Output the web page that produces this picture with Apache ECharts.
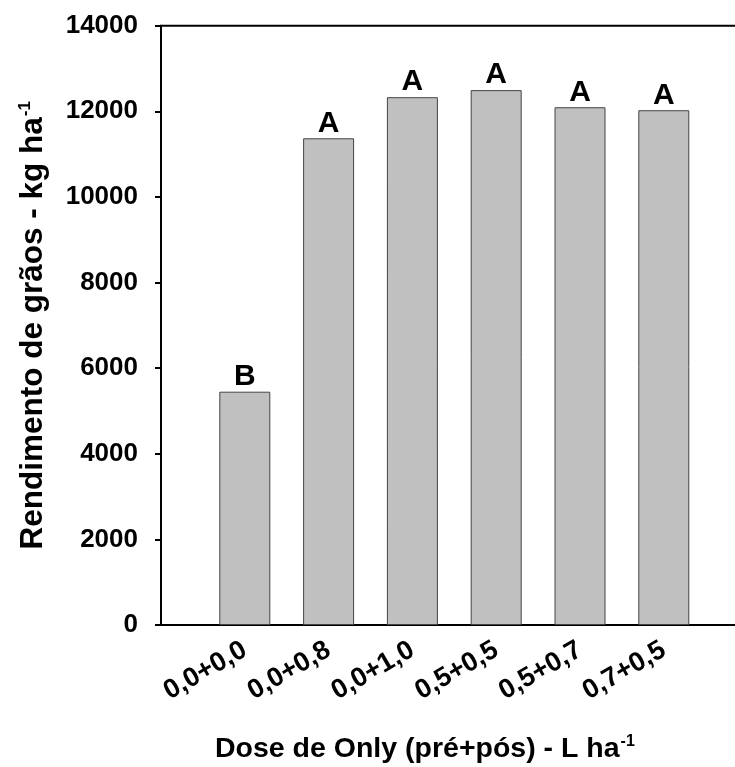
<!DOCTYPE html>
<html>
<head>
<meta charset="utf-8">
<script src="https://cdn.jsdelivr.net/npm/echarts@6/dist/echarts.min.js"></script>
<style>html,body{margin:0;padding:0;background:#fff}#c{width:735px;height:767px}</style>
</head>
<body>
<div id="c"></div>
<script>
const categories = ['0,0+0,0', '0,0+0,8', '0,0+1,0', '0,5+0,5', '0,5+0,7', '0,7+0,5'];
const yieldValues = [5450, 11370, 12330, 12495, 12095, 12025];
const letters = ['B', 'A', 'A', 'A', 'A', 'A'];
const yTicks = [0, 2000, 4000, 6000, 8000, 10000, 12000, 14000];

const FONT = '"Liberation Sans", Arial, sans-serif';
const chart = echarts.init(document.getElementById('c'), null, {renderer: 'canvas'});
chart.setOption({
  animation: false,
  backgroundColor: '#fff',
  title: {
    text: '{a|Dose de Only (pré+pós) - L ha}{s|-1}',
    left: 210, top: 729,
    textStyle: {
      rich: {
        a: {fontFamily: FONT, fontWeight: 'bold', fontSize: 28.5, color: '#000'},
        s: {fontFamily: FONT, fontWeight: 'bold', fontSize: 16, color: '#000', verticalAlign: 'top', padding: [0, 0, 14, 1]}
      }
    }
  },
  grid: {
    left: 161, top: 25.7, width: 586.6, height: 599.3,
    containLabel: false, outerBoundsMode: 'none',
    show: true, borderColor: '#000', borderWidth: 2, backgroundColor: 'transparent'
  },
  xAxis: {
    type: 'value', min: 0, max: categories.length + 1, interval: 1,
    splitLine: {show: false},
    axisLine: {show: true, lineStyle: {color: '#000', width: 2}},
    axisTick: {show: false},
    axisLabel: {
      rotate: 30, margin: 23,
      fontFamily: FONT, fontWeight: 'bold', fontSize: 27, color: '#000',
      formatter: v => (v >= 1 && v <= categories.length) ? categories[v - 1] : ''
    }
  },
  yAxis: {
    type: 'value', min: yTicks[0], max: yTicks[yTicks.length - 1], interval: 2000,
    splitLine: {show: false},
    axisLine: {show: true, lineStyle: {color: '#000', width: 2}},
    axisTick: {show: true, length: 6, lineStyle: {color: '#000', width: 2}},
    axisLabel: {margin: 23, fontFamily: FONT, fontWeight: 'bold', fontSize: 26, color: '#000',
      formatter: v => String(v)},
    name: '{a|Rendimento de grãos - kg ha}{s|-1}',
    nameLocation: 'middle', nameRotate: 90, nameGap: 111,
    nameTextStyle: {
      rich: {
        a: {fontFamily: FONT, fontWeight: 'bold', fontSize: 31.5, color: '#000'},
        s: {fontFamily: FONT, fontWeight: 'bold', fontSize: 17, color: '#000', verticalAlign: 'top', padding: [0, 0, 16, 1]}
      }
    }
  },
  series: [{
    type: 'bar',
    barWidth: 51,
    data: categories.map((c, i) => [i + 1, yieldValues[i]]),
    itemStyle: {color: '#c0c0c0', borderColor: '#444', borderWidth: 1},
    label: {
      show: true, position: 'top', distance: 0,
      formatter: p => letters[p.dataIndex],
      fontFamily: FONT, fontWeight: 'bold', fontSize: 30, color: '#000'
    }
  }]
});
</script>
</body>
</html>
